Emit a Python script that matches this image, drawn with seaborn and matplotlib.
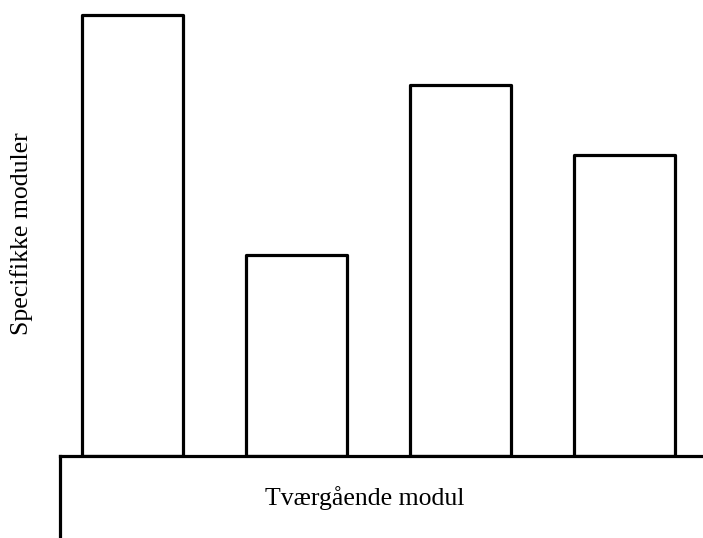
import matplotlib
matplotlib.use("Agg")
import matplotlib.pyplot as plt
import seaborn as sns
import pandas as pd

sns.set_style("white")
plt.rcParams['font.family'] = ['Liberation Serif', 'DejaVu Serif']
plt.rcParams['text.color'] = 'black'

# Data (bar heights, arbitrary units)
modules = ["A", "B", "C", "D"]
heights = [44.1, 20.1, 37.1, 30.1]
ylabel = "Specifikke moduler"
base_label = "Tværgående modul"

df = pd.DataFrame({"modul": modules, "hoejde": heights})

W, H = 703, 538
fig = plt.figure(figsize=(W / 100, H / 100), dpi=100)

# Main axes: bars standing on the base box
ax = fig.add_axes([60 / W, 82 / H, 643 / W, 456 / H])
sns.barplot(data=df, x="modul", y="hoejde", ax=ax, color="white",
            edgecolor="black", linewidth=2.3, width=0.616, saturation=1)
for p in ax.patches:
    p.set_joinstyle("round")
ax.set_xlim(-0.442, 3.479)
ax.set_ylim(0, 45.6)
ax.set_xticks([])
ax.set_yticks([])
ax.set_xlabel(None)
ax.set_ylabel(None)
for s in ax.spines.values():
    s.set_visible(False)

# Base box: transverse module
bx = fig.add_axes([60 / W, 0, 643 / W, 82 / H])
bx.set_xticks([])
bx.set_yticks([])
bx.spines['right'].set_visible(False)
bx.spines['bottom'].set_visible(False)
bx.spines['left'].set_linewidth(2.3)
bx.spines['top'].set_linewidth(2.3)
bx.spines['left'].set_color("black")
bx.spines['top'].set_color("black")
bx.patch.set_alpha(0)

fig.text(365 / W, 1 - 498 / H, base_label, ha="center", va="center",
         fontsize=18.5, color="black")
fig.text(22 / W, 1 - 234 / H, ylabel, ha="center", va="center",
         rotation=90, fontsize=18.5, color="black")

plt.savefig("out.png", dpi=100)
